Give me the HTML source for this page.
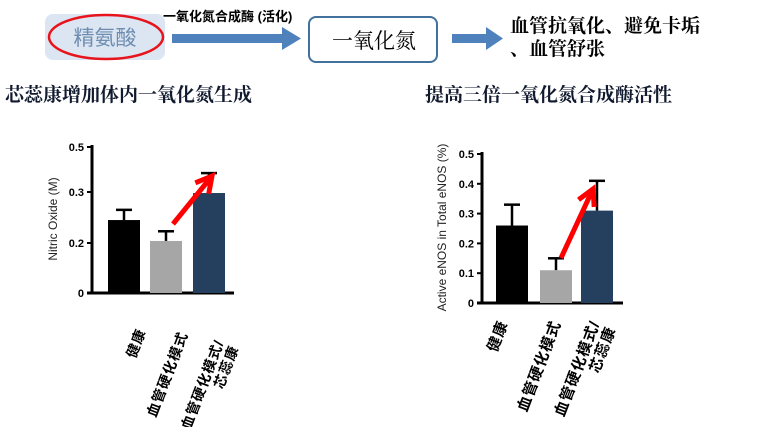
<!DOCTYPE html>
<html><head><meta charset="utf-8"><style>
body{margin:0;width:764px;height:427px;background:#fff;overflow:hidden;font-family:"Liberation Sans","Noto Sans CJK SC",sans-serif}
svg text{font-family:"Liberation Sans","Noto Sans CJK SC",sans-serif}
svg .serif{font-family:"Liberation Serif","Noto Serif CJK SC",serif}
</style></head><body>
<svg width="764" height="427">
<g>
<rect x="45" y="14" width="120" height="46" rx="8" fill="#dce6f2"/>
<ellipse cx="106" cy="37" rx="57" ry="22" fill="none" stroke="#e8141b" stroke-width="2.5"/>
<text x="105" y="45" text-anchor="middle" font-size="21" fill="#6f8db0">精氨酸</text>
<text x="163" y="21" font-size="13" font-weight="bold" fill="#000">一氧化氮合成酶 (活化)</text>
<polygon points="172,34 282,34 282,27 301,38.5 282,50 282,43 172,43" fill="#4f81bd"/>
<rect x="309" y="17" width="128" height="45" rx="7" fill="#fff" stroke="#41719c" stroke-width="2"/>
<text x="374" y="48" text-anchor="middle" font-size="21" fill="#000" class="serif">一氧化氮</text>
<polygon points="452,34 486,34 486,27 503,38.5 486,50 486,43 452,43" fill="#4f81bd"/>
<text x="510" y="32" font-size="19" font-weight="bold" class="serif">血管抗氧化、避免卡垢</text>
<text x="510" y="55" font-size="19" font-weight="bold" class="serif">、血管舒张</text>
</g>
<text x="5" y="101" font-size="19" font-weight="bold" fill="#111a2e" class="serif">芯蕊康增加体内一氧化氮生成</text>
<text x="425" y="101" font-size="19" font-weight="bold" fill="#111a2e" class="serif">提高三倍一氧化氮合成酶活性</text>
<g id="c1"></g><g id="c2"></g>
</svg>
<script>
const cats=["健康","血管硬化模式","血管硬化模式/|芯蕊康"];
const colors=["#000","#a6a6a6","#253f5f"];
const no_vals=[0.245,0.204,0.298];
const no_errs=[0.265,0.223,0.384];
const no_ticks=[0,0.2,0.3,0.5];
const enos_vals=[0.26,0.11,0.31];
const enos_errs=[0.33,0.15,0.41];
const enos_ticks=[0,0.1,0.2,0.3,0.4,0.5];
const NS="http://www.w3.org/2000/svg";
function mk(p,t,a){const e=document.createElementNS(NS,t);for(const k in a)e.setAttribute(k,a[k]);p.appendChild(e);return e;}
function draw(g,o){
 const y=o.y;
 const ax=mk(g,'line',{x1:o.x0,y1:o.base,x2:o.x0,y2:o.top,stroke:'#000','stroke-width':3});
 
 const xa=mk(g,'line',{x1:o.x0-5,y1:o.base,x2:o.xEnd,y2:o.base,stroke:'#000','stroke-width':3});
 
 o.ticks.forEach(t=>{
  const l=mk(g,'line',{x1:o.x0-5,y1:y(t),x2:o.x0,y2:y(t),stroke:'#000','stroke-width':2});
  
  const tx=mk(g,'text',{x:o.x0-8,y:y(t)+4,'text-anchor':'end','font-size':11,'font-weight':'bold'});
  tx.textContent=t===0?'0':String(t);
  
 });
 const yt=mk(g,'text',{transform:`translate(${o.titleX},${(o.base+o.top)/2}) rotate(-90)`,'text-anchor':'middle','font-size':o.titleSize,fill:'#222'});
 yt.textContent=o.title;
 o.vals.forEach((v,i)=>{
  const x=o.bx[i],cx=x+o.bw/2;
  const e1=mk(g,'line',{x1:cx,y1:y(v),x2:cx,y2:y(o.errs[i]),stroke:'#000','stroke-width':2.5});
  
  const e2=mk(g,'line',{x1:cx-8,y1:y(o.errs[i]),x2:cx+8,y2:y(o.errs[i]),stroke:'#000','stroke-width':2.5});
  
  const r=mk(g,'rect',{x:x,y:y(v),width:o.bw,height:o.base-y(v),fill:colors[i]});
  
  const parts=cats[i].split('|');
  const lt=mk(g,'text',{transform:`translate(${cx+o.lx[i]},${o.base+o.ly[i]}) rotate(-69)`,'text-anchor':'end','font-size':o.lsize,'font-weight':'bold','letter-spacing':1});
  
  parts.forEach((p,j)=>{const ts=mk(lt,'tspan',{x:0,dy:j?o.lsize+2:0});ts.textContent=p;});
 });
 const a=o.arrow;
 const ar=mk(g,'line',{x1:a[0],y1:a[1],x2:a[2],y2:a[3],stroke:'#f00','stroke-width':5});
 
 const ang=Math.atan2(a[3]-a[1],a[2]-a[0]);
 const p=(d,s)=>[a[2]-d*Math.cos(ang+s),a[3]-d*Math.sin(ang+s)];
 const h1=p(18,0.5),h2=p(18,-0.5);
 const hd=mk(g,'polyline',{points:`${h1} ${a[2]},${a[3]} ${h2}`,fill:'none',stroke:'#f00','stroke-width':5});
 
}
const ly=[293,243,192,147];
function yL(v){for(let i=0;i<no_ticks.length-1;i++){if(v<=no_ticks[i+1]||i===no_ticks.length-2){const t=(v-no_ticks[i])/(no_ticks[i+1]-no_ticks[i]);return ly[i]+t*(ly[i+1]-ly[i]);}}}
draw(document.getElementById('c1'),{y:yL,x0:92,xEnd:234,base:293,top:145,ticks:no_ticks,vals:no_vals,errs:no_errs,bx:[108,150,193],bw:32,title:'Nitric Oxide (M)',titleX:57,titleSize:12,lx:[22,22,15],ly:[38,41,49],lsize:14,arrow:[173,224,212,176]});
document.getElementById('c1');
function yR(v){return 303-v/0.5*149;}
draw(document.getElementById('c2'),{y:yR,x0:482,xEnd:623,base:303,top:152,ticks:enos_ticks,vals:enos_vals,errs:enos_errs,bx:[496,540,581],bw:32,title:'Active eNOS in Total eNOS (%)',titleX:446,titleSize:12,lx:[-4,5,3],ly:[20,20,20],lsize:15,arrow:[561,258,593,189]});
document.getElementById('c2');
</script>
</body></html>
